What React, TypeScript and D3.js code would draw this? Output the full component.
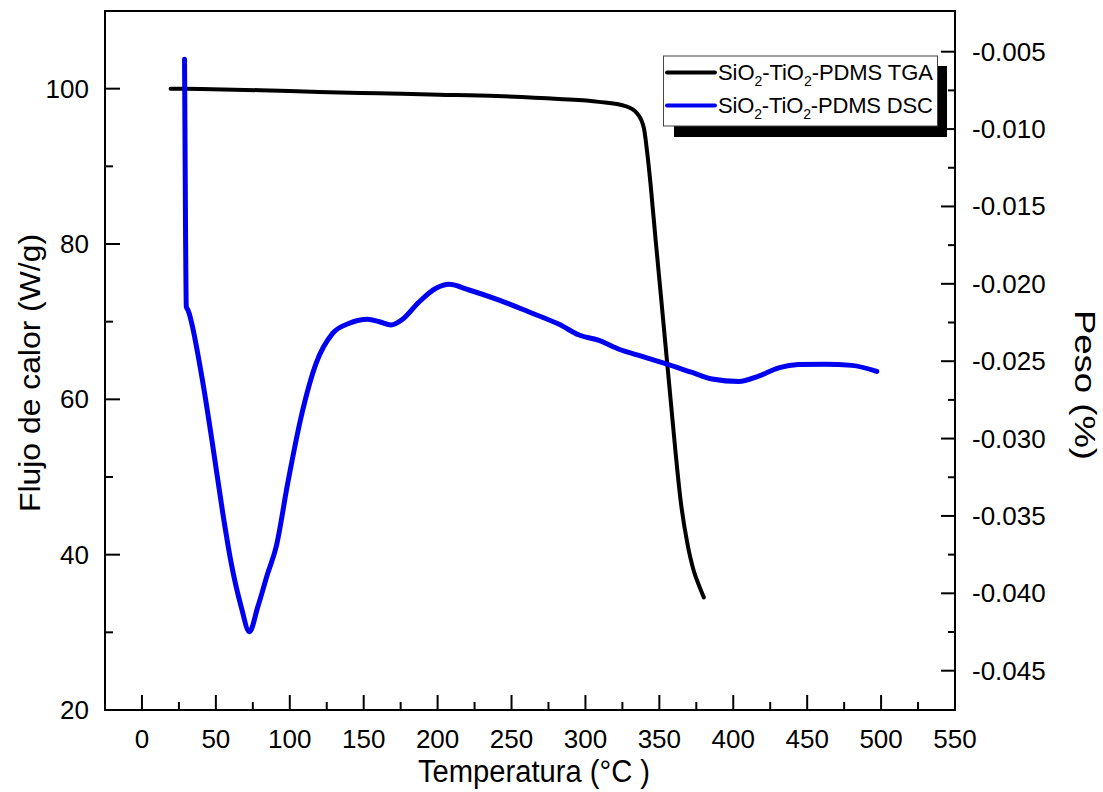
import React from "react";
import * as d3 from "d3";

const tgaTemp = [19.4, 40, 80, 120, 160, 201, 240, 282, 309, 327, 335, 339.5, 341.8, 344.1, 347.4, 350.8, 354.2, 357.6, 361, 364.3, 368.8, 373.3, 376.7, 380.1];
const tgaVal = [100.0, 99.95, 99.8, 99.57, 99.4, 99.23, 99.05, 98.67, 98.3, 97.75, 96.8, 94.96, 91.74, 87.6, 80.7, 73.85, 66.9, 60.0, 53.1, 47.1, 41.6, 37.9, 36.1, 34.5];

const dscTemp = [28.8, 29.5, 30.0, 31.1, 40.1, 48.0, 54.7, 60.4, 67.1, 72.7, 78.4, 85.1, 90.8, 98.6, 107.7, 117.8, 129.0, 140.3, 152.7, 160.6, 168.5, 176.3, 187.6, 198.9, 207.8, 221.3, 241.6, 261.9, 282.2, 295.7, 309.2, 322.7, 338.4, 354.2, 372.2, 385.7, 403.7, 417.2, 430.7, 444.2, 462.3, 480.2, 497.1];
const dscVal = [-0.00549, -0.01672, -0.02148, -0.02169, -0.02578, -0.03053, -0.03483, -0.03806, -0.04086, -0.04248, -0.04086, -0.03871, -0.03699, -0.03289, -0.02859, -0.02514, -0.0232, -0.02255, -0.02229, -0.02245, -0.02266, -0.02229, -0.02116, -0.02029, -0.02003, -0.0204, -0.02105, -0.02182, -0.02262, -0.02331, -0.02366, -0.02423, -0.02469, -0.02516, -0.02573, -0.02615, -0.02631, -0.02596, -0.02543, -0.02522, -0.0252, -0.02527, -0.02566];

const xMajor = [0, 50, 100, 150, 200, 250, 300, 350, 400, 450, 500, 550];
const xMinor = [25, 75, 125, 175, 225, 275, 325, 375, 425, 475, 525];
const yLeftMajor = [20, 40, 60, 80, 100];
const yLeftMinor = [30, 50, 70, 90];
const yRightMajor = [-0.005, -0.01, -0.015, -0.02, -0.025, -0.03, -0.035, -0.04, -0.045];
const yRightMinor = [-0.0075, -0.0125, -0.0175, -0.0225, -0.0275, -0.0325, -0.0375, -0.0425];

const FONT = "Arial, 'Liberation Sans', sans-serif";

export default function App() {
  const L = 105, R = 955, T = 11, B = 710;
  const x = d3.scaleLinear().domain([-25, 550]).range([L, R]);
  const yL = d3.scaleLinear().domain([20, 110]).range([B, T]);
  const yR = d3.scaleLinear().domain([-0.04754, -0.00237]).range([B, T]);

  const tgaLine = d3
    .line<number>()
    .x((_, i) => x(tgaTemp[i]))
    .y((d) => yL(d))
    .curve(d3.curveMonotoneX)(tgaVal) as string;
  const dscLine = d3
    .line<number>()
    .x((_, i) => x(dscTemp[i]))
    .y((d) => yR(d))
    .curve(d3.curveMonotoneX)(dscVal) as string;

  const blue = "#0000f0";

  const legendText = (suffix: string) => (
    <>
      SiO<tspan fontSize={14} dy={6}>2</tspan>
      <tspan dy={-6}>-TiO</tspan>
      <tspan fontSize={14} dy={6}>2</tspan>
      <tspan dy={-6}>{"-PDMS " + suffix}</tspan>
    </>
  );

  return (
    <div style={{ position: "absolute", left: 0, top: 0 }}>
      <svg width={1103} height={792} style={{ display: "block", background: "#fff" }} fontFamily={FONT}>
        <rect x={0} y={0} width={1103} height={792} fill="#fff" />
        {/* data */}
        <path d={tgaLine} fill="none" stroke="#000" strokeWidth={4} strokeLinejoin="round" strokeLinecap="round" />
        <path d={dscLine} fill="none" stroke={blue} strokeWidth={5} strokeLinejoin="round" strokeLinecap="round" />

        {/* frame */}
        <rect x={L} y={T} width={R - L} height={B - T} fill="none" stroke="#000" strokeWidth={2} />

        {/* bottom ticks */}
        {xMajor.map((v) => (
          <g key={"xm" + v}>
            <line x1={x(v)} x2={x(v)} y1={B} y2={B - 15} stroke="#000" strokeWidth={2} />
            <text x={x(v)} y={748} textAnchor="middle" fontSize={26}>{v}</text>
          </g>
        ))}
        {xMinor.map((v) => (
          <line key={"xn" + v} x1={x(v)} x2={x(v)} y1={B} y2={B - 8} stroke="#000" strokeWidth={2} />
        ))}

        {/* left ticks */}
        {yLeftMajor.map((v) => (
          <g key={"ylm" + v}>
            <line x1={L} x2={L + 15} y1={yL(v)} y2={yL(v)} stroke="#000" strokeWidth={2} />
            <text x={89} y={yL(v) + 9} textAnchor="end" fontSize={26}>{v}</text>
          </g>
        ))}
        {yLeftMinor.map((v) => (
          <line key={"yln" + v} x1={L} x2={L + 8} y1={yL(v)} y2={yL(v)} stroke="#000" strokeWidth={2} />
        ))}

        {/* right ticks */}
        {yRightMajor.map((v) => (
          <g key={"yrm" + v}>
            <line x1={R} x2={R - 14} y1={yR(v)} y2={yR(v)} stroke="#000" strokeWidth={2} />
            <text x={972} y={yR(v) + 9} textAnchor="start" fontSize={26}>{d3.format(".3f")(v).replace("−", "-")}</text>
          </g>
        ))}
        {yRightMinor.map((v) => (
          <line key={"yrn" + v} x1={R} x2={R - 7} y1={yR(v)} y2={yR(v)} stroke="#000" strokeWidth={2} />
        ))}

        {/* axis titles */}
        <text x={534} y={782} textAnchor="middle" fontSize={31} textLength={232} lengthAdjust="spacingAndGlyphs">
          Temperatura (°C )
        </text>
        <text transform="translate(40,373) rotate(-90)" textAnchor="middle" fontSize={30} textLength={278} lengthAdjust="spacingAndGlyphs">
          Flujo de calor (W/g)
        </text>
        <text transform="translate(1075,385) rotate(90)" textAnchor="middle" fontSize={30} textLength={150} lengthAdjust="spacingAndGlyphs">
          Peso (%)
        </text>

        {/* legend */}
        <rect x={674} y={66} width={273} height={71} fill="#000" />
        <rect x={663.5} y={56} width={274} height={70} fill="#fff" stroke="#444" strokeWidth={1} />
        <line x1={667} x2={715} y1={72.5} y2={72.5} stroke="#000" strokeWidth={4} strokeLinecap="round" />
        <line x1={667} x2={715} y1={105.5} y2={105.5} stroke={blue} strokeWidth={4} strokeLinecap="round" />
        <text x={718} y={80} fontSize={22} textLength={215}>{legendText("TGA")}</text>
        <text x={718} y={113} fontSize={22} textLength={215}>{legendText("DSC")}</text>
      </svg>
    </div>
  );
}
